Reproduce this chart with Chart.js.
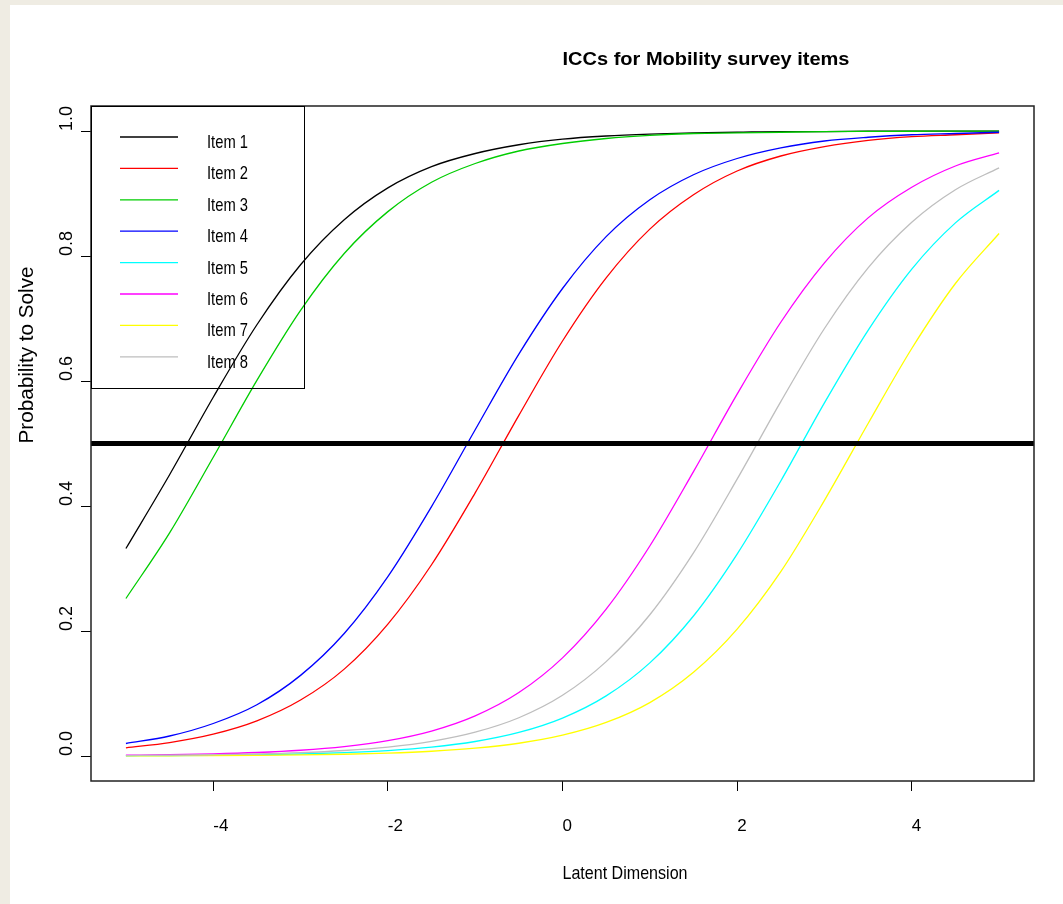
<!DOCTYPE html>
<html>
<head>
<meta charset="utf-8">
<title>ICCs for Mobility survey items</title>
<script src="https://cdn.jsdelivr.net/npm/chart.js@4.4.1/dist/chart.umd.min.js"></script>
<style>
  html, body { margin: 0; padding: 0; background: #efece3; }
  canvas { display: block; }
</style>
</head>
<body>
<canvas id="icc" width="1063" height="904"></canvas>
<script>
// latent dimension grid (theta)
const theta = [-5, -4.5, -4, -3.5, -3, -2.5, -2, -1.5, -1, -0.5, 0, 0.5, 1, 1.5, 2, 2.5, 3, 3.5, 4, 4.5, 5];

// probability to solve, one array per item
const item1 = [0.332, 0.450, 0.574, 0.690, 0.786, 0.858, 0.909, 0.943, 0.964, 0.978, 0.987, 0.992, 0.995, 0.997, 0.998, 0.999, 0.999, 0.9996, 0.9998, 0.9998, 0.9999];
const item2 = [0.0131, 0.0215, 0.0349, 0.0562, 0.0895, 0.139, 0.211, 0.306, 0.421, 0.545, 0.664, 0.765, 0.843, 0.898, 0.936, 0.960, 0.975, 0.985, 0.991, 0.994, 0.997];
const item3 = [0.252, 0.357, 0.478, 0.601, 0.713, 0.804, 0.871, 0.918, 0.948, 0.968, 0.980, 0.988, 0.993, 0.996, 0.997, 0.998, 0.999, 0.9994, 0.9996, 0.9998, 0.9999];
const item4 = [0.020, 0.032, 0.052, 0.082, 0.129, 0.196, 0.287, 0.399, 0.522, 0.643, 0.748, 0.831, 0.890, 0.930, 0.956, 0.973, 0.984, 0.990, 0.994, 0.996, 0.998];
const item5 = [0.0004, 0.0007, 0.0012, 0.0019, 0.0032, 0.0053, 0.0087, 0.0142, 0.0232, 0.0377, 0.0607, 0.0962, 0.149, 0.224, 0.323, 0.440, 0.565, 0.681, 0.779, 0.853, 0.905];
const item6 = [0.0013, 0.0021, 0.0034, 0.0056, 0.0092, 0.0151, 0.0246, 0.0399, 0.0642, 0.1015, 0.157, 0.235, 0.336, 0.455, 0.579, 0.694, 0.789, 0.861, 0.910, 0.944, 0.965];
const item7 = [0.0002, 0.0004, 0.0006, 0.0010, 0.0017, 0.0028, 0.0046, 0.0076, 0.0125, 0.0204, 0.0333, 0.0537, 0.0855, 0.134, 0.203, 0.295, 0.409, 0.532, 0.652, 0.756, 0.836];
const item8 = [0.0007, 0.0012, 0.0020, 0.0032, 0.0053, 0.0088, 0.0143, 0.0234, 0.0381, 0.0612, 0.0971, 0.151, 0.226, 0.325, 0.443, 0.567, 0.684, 0.781, 0.854, 0.906, 0.941];

const itemNames = ["Item 1", "Item 2", "Item 3", "Item 4", "Item 5", "Item 6", "Item 7", "Item 8"];
const itemColors = ["#000000", "#ff0000", "#00cd00", "#0000ff", "#00ffff", "#ff00ff", "#ffff00", "#bebebe"];
const itemValues = [item1, item2, item3, item4, item5, item6, item7, item8];

// 50% reference line across the whole plot
const cutX = [-5.4, 5.4];
const cutY = [0.5, 0.5];

const xTicks = [-4, -2, 0, 2, 4];
const yTicks = [0, 0.2, 0.4, 0.6, 0.8, 1.0];

const FONT = "'Liberation Sans', Arial, sans-serif";

// draw a string squeezed/stretched to a given width (R output uses a narrow face)
function putText(ctx, text, x, y, font, width, rotate) {
  ctx.save();
  ctx.font = font;
  const w = ctx.measureText(text).width;
  ctx.translate(x, y);
  if (rotate) ctx.rotate(rotate);
  ctx.scale(width ? width / w : 1, 1);
  ctx.textAlign = "left";
  ctx.textBaseline = "alphabetic";
  ctx.fillStyle = "#000";
  ctx.fillText(text, 0, 0);
  ctx.restore();
}

const datasets = itemValues.map((vals, i) => ({
  label: itemNames[i],
  data: theta.map((t, j) => ({ x: t, y: vals[j] })),
  borderColor: itemColors[i],
  borderWidth: 1.3,
  pointRadius: 0,
  fill: false,
  cubicInterpolationMode: "monotone",
  order: 8 - i
}));

datasets.push({
  label: "cut",
  data: cutX.map((t, j) => ({ x: t, y: cutY[j] })),
  borderColor: "#000",
  borderWidth: 5,
  borderCapStyle: "butt",
  pointRadius: 0,
  fill: false,
  order: 0
});

const pagePlugin = {
  id: "page",
  beforeDraw(chart) {
    const ctx = chart.ctx;
    ctx.save();
    ctx.fillStyle = "#efece3";
    ctx.fillRect(0, 0, chart.width, chart.height);
    ctx.fillStyle = "#ffffff";
    ctx.fillRect(10, 5, chart.width - 10, chart.height - 5);
    ctx.restore();
  },
  afterDraw(chart) {
    const ctx = chart.ctx;
    const area = chart.chartArea;
    const yScale = chart.scales.y;
    const midX = (area.left + area.right) / 2;
    const midY = (area.top + area.bottom) / 2;

    // plot frame
    ctx.save();
    ctx.strokeStyle = "#222";
    ctx.lineWidth = 1.5;
    ctx.strokeRect(area.left, area.top, area.right - area.left, area.bottom - area.top);
    ctx.restore();

    // y tick labels, rotated, starting at the tick
    yTicks.forEach(v => {
      putText(ctx, v.toFixed(1), 72, yScale.getPixelForValue(v), "18px " + FONT, 0, -Math.PI / 2);
    });

    // titles
    putText(ctx, "ICCs for Mobility survey items", midX, 65, "bold 18px " + FONT, 287);
    putText(ctx, "Latent Dimension", midX, 879, "19px " + FONT, 125);
    putText(ctx, "Probability to Solve", 33, midY, "20px " + FONT, 177, -Math.PI / 2);

    // legend box in the top-left corner
    const lx = area.left, ly = area.top;
    ctx.save();
    ctx.strokeStyle = "#000";
    ctx.lineWidth = 1;
    ctx.strokeRect(lx + 0.5, ly + 0.5, 213, 282);
    itemNames.forEach((name, i) => {
      const y = ly + 31 + i * 31.4;
      ctx.strokeStyle = itemColors[i];
      ctx.lineWidth = 1.3;
      ctx.beginPath();
      ctx.moveTo(lx + 29, y);
      ctx.lineTo(lx + 87, y);
      ctx.stroke();
      putText(ctx, name, lx + 116, y + 11, "19px " + FONT, 41);
    });
    ctx.restore();
  }
};

new Chart(document.getElementById("icc"), {
  type: "line",
  data: { datasets: datasets },
  plugins: [pagePlugin],
  options: {
    responsive: false,
    animation: false,
    devicePixelRatio: 1,
    layout: { padding: { left: 0, top: 106, right: 29, bottom: 0 } },
    plugins: {
      legend: { display: false },
      tooltip: { enabled: false }
    },
    scales: {
      x: {
        type: "linear",
        min: -5.4,
        max: 5.4,
        afterBuildTicks: axis => { axis.ticks = xTicks.map(v => ({ value: v })); },
        afterFit: axis => { axis.height = 123; },
        border: { display: false },
        grid: { drawOnChartArea: false, drawTicks: true, tickLength: 10, color: "#000", lineWidth: 1 },
        ticks: { align: "start", padding: 25, color: "#000", font: { family: FONT, size: 17 }, maxRotation: 0 }
      },
      y: {
        type: "linear",
        min: -0.04,
        max: 1.04,
        afterBuildTicks: axis => { axis.ticks = yTicks.map(v => ({ value: v })); },
        afterFit: axis => { axis.width = 91; },
        border: { display: false },
        grid: { drawOnChartArea: false, drawTicks: true, tickLength: 10, color: "#000", lineWidth: 1 },
        ticks: { display: false }
      }
    }
  }
});
</script>
</body>
</html>
